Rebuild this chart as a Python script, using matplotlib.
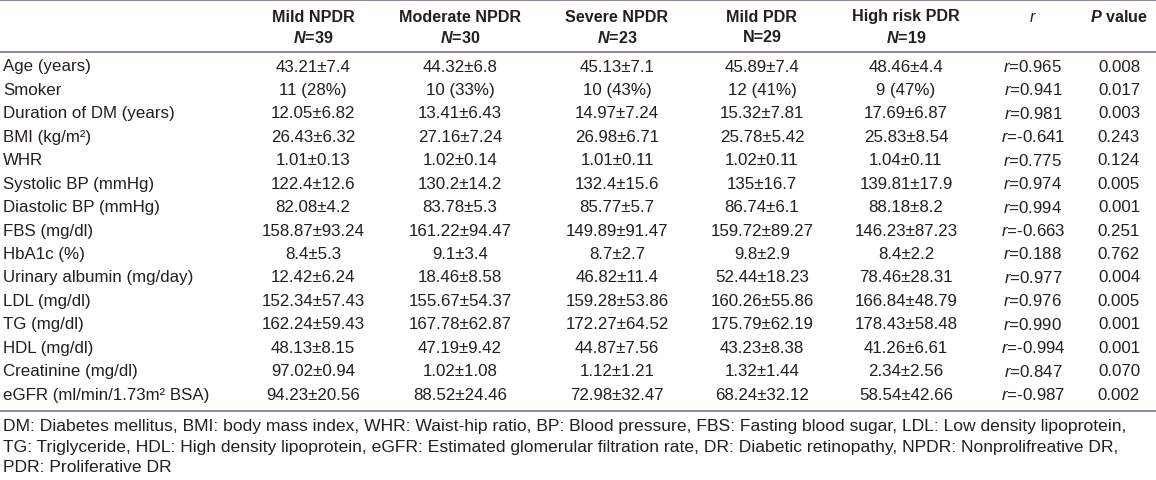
import matplotlib
matplotlib.use("Agg")
import matplotlib.pyplot as plt

plt.rcParams['font.family'] = ['Liberation Sans', 'DejaVu Sans']
plt.rcParams['mathtext.fontset'] = 'custom'
plt.rcParams['mathtext.rm'] = 'Liberation Sans'
plt.rcParams['mathtext.it'] = 'Liberation Sans:italic'
plt.rcParams['mathtext.bf'] = 'Liberation Sans:bold'
plt.rcParams['mathtext.bfit'] = 'Liberation Sans:bold:italic'

# table contents
groups = ['Mild NPDR', 'Moderate NPDR', 'Severe NPDR', 'Mild PDR', 'High risk PDR']
group_n = [r'$\mathbfit{N}$=39', r'$\mathbfit{N}$=30', r'$\mathbfit{N}$=23', 'N=29', r'$\mathbfit{N}$=19']

variables = ['Age (years)', 'Smoker', 'Duration of DM (years)', 'BMI (kg/m²)', 'WHR',
             'Systolic BP (mmHg)', 'Diastolic BP (mmHg)', 'FBS (mg/dl)', 'HbA1c (%)',
             'Urinary albumin (mg/day)', 'LDL (mg/dl)', 'TG (mg/dl)', 'HDL (mg/dl)',
             'Creatinine (mg/dl)', 'eGFR (ml/min/1.73m² BSA)']

mild_npdr = ['43.21±7.4', '11 (28%)', '12.05±6.82', '26.43±6.32', '1.01±0.13', '122.4±12.6',
             '82.08±4.2', '158.87±93.24', '8.4±5.3', '12.42±6.24', '152.34±57.43',
             '162.24±59.43', '48.13±8.15', '97.02±0.94', '94.23±20.56']
moderate_npdr = ['44.32±6.8', '10 (33%)', '13.41±6.43', '27.16±7.24', '1.02±0.14', '130.2±14.2',
                 '83.78±5.3', '161.22±94.47', '9.1±3.4', '18.46±8.58', '155.67±54.37',
                 '167.78±62.87', '47.19±9.42', '1.02±1.08', '88.52±24.46']
severe_npdr = ['45.13±7.1', '10 (43%)', '14.97±7.24', '26.98±6.71', '1.01±0.11', '132.4±15.6',
               '85.77±5.7', '149.89±91.47', '8.7±2.7', '46.82±11.4', '159.28±53.86',
               '172.27±64.52', '44.87±7.56', '1.12±1.21', '72.98±32.47']
mild_pdr = ['45.89±7.4', '12 (41%)', '15.32±7.81', '25.78±5.42', '1.02±0.11', '135±16.7',
            '86.74±6.1', '159.72±89.27', '9.8±2.9', '52.44±18.23', '160.26±55.86',
            '175.79±62.19', '43.23±8.38', '1.32±1.44', '68.24±32.12']
high_risk_pdr = ['48.46±4.4', '9 (47%)', '17.69±6.87', '25.83±8.54', '1.04±0.11', '139.81±17.9',
                 '88.18±8.2', '146.23±87.23', '8.4±2.2', '78.46±28.31', '166.84±48.79',
                 '178.43±58.48', '41.26±6.61', '2.34±2.56', '58.54±42.66']
r_values = ['0.965', '0.941', '0.981', '-0.641', '0.775', '0.974', '0.994', '-0.663', '0.188',
            '0.977', '0.976', '0.990', '-0.994', '0.847', '-0.987']
p_values = ['0.008', '0.017', '0.003', '0.243', '0.124', '0.005', '0.001', '0.251', '0.762',
            '0.004', '0.005', '0.001', '0.001', '0.070', '0.002']

footnote = ['DM: Diabetes mellitus, BMI: body mass index, WHR: Waist-hip ratio, BP: Blood pressure, '
            'FBS: Fasting blood sugar, LDL: Low density lipoprotein,',
            'TG: Triglyceride, HDL: High density lipoprotein, eGFR: Estimated glomerular filtration rate, '
            'DR: Diabetic retinopathy, NPDR: Nonprolifreative DR,',
            'PDR: Proliferative DR']

text_color = '#231f20'
rule_color = '#8a7a9e'
fs = 12.2
fs_head = 11.6
fs_note = 12.6

# layout in pixels
W, H = 1156, 481
col_x = [313, 460, 617, 762, 906, 1033, 1119]
row_top = 67
row_step = 23.43

fig = plt.figure(figsize=(W / 100, H / 100), dpi=100)
ax = fig.add_axes([0, 0, 1, 1])
ax.set_xlim(0, W)
ax.set_ylim(H, 0)
ax.axis('off')

# rules
ax.plot([0, W], [1, 1], color=rule_color, lw=1.3)
ax.plot([0, W], [53, 53], color=rule_color, lw=1.3)
ax.plot([0, W], [412, 412], color=rule_color, lw=1.3)

# header
for x, g, n in zip(col_x, groups, group_n):
    ax.text(x, 17, g, ha='center', va='center', fontsize=fs_head, fontweight='bold', color=text_color)
    ax.text(x, 38, n, ha='center', va='center', fontsize=fs_head, fontweight='bold', color=text_color)
ax.text(col_x[5], 17, r'$\mathit{r}$', ha='center', va='center', fontsize=fs_head, color=text_color)
ax.text(col_x[6], 17, r'$\mathbfit{P}$ value', ha='center', va='center', fontsize=fs_head,
        fontweight='bold', color=text_color)

# body
columns = [mild_npdr, moderate_npdr, severe_npdr, mild_pdr, high_risk_pdr]
for i, var in enumerate(variables):
    y = row_top + i * row_step
    ax.text(3, y, var, ha='left', va='center', fontsize=fs, color=text_color)
    for x, col in zip(col_x, columns):
        ax.text(x, y, col[i], ha='center', va='center', fontsize=fs, color=text_color)
    ax.text(col_x[5], y, r'$\mathit{r}$=' + r_values[i], ha='center', va='center',
            fontsize=fs, color=text_color)
    ax.text(col_x[6], y, p_values[i], ha='center', va='center', fontsize=fs, color=text_color)

# footnote
for j, line in enumerate(footnote):
    ax.text(3, 427 + j * 20.5, line, ha='left', va='center', fontsize=fs_note, color=text_color)

fig.savefig('out.png', dpi=100, facecolor='white')
